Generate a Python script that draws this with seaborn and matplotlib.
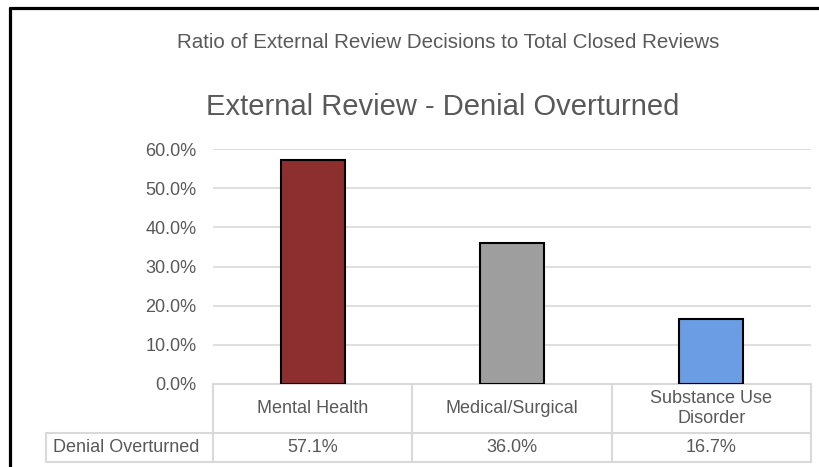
import pandas as pd
import matplotlib.pyplot as plt
import matplotlib.transforms as mtransforms
from matplotlib.lines import Line2D
import seaborn as sns

sns.set_theme(style="white")
plt.rcParams['font.family'] = ['Liberation Sans', 'DejaVu Sans']

# dados
categories = ["Mental Health", "Medical/Surgical", "Substance Use\nDisorder"]
values = [0.571, 0.360, 0.167]
bar_colors = ["#8e2f2f", "#9e9e9e", "#6a9de3"]
row_label = "Denial Overturned"
y_ticks = [0.0, 0.1, 0.2, 0.3, 0.4, 0.5, 0.6]

txt = "#595959"
grid_c = "#d9d9d9"

W, H = 820, 467
fig = plt.figure(figsize=(W / 100, H / 100), dpi=100)
fig.patch.set_facecolor("white")

# área do gráfico (pixels -> fração da figura)
x0, x1, y_top, y_bot = 213, 811, 149, 384
ax = fig.add_axes([x0 / W, (H - y_bot) / H, (x1 - x0) / W, (y_bot - y_top) / H])

df = pd.DataFrame({"cat": categories, "val": values})
sns.barplot(data=df, x="cat", y="val", hue="cat", palette=bar_colors,
            saturation=1, legend=False, width=0.32, edgecolor="black",
            linewidth=1.5, ax=ax, zorder=3)

ax.set_ylim(0, 0.6)
ax.set_xlim(-0.5, len(categories) - 0.5)
ax.set_yticks(y_ticks)
ax.set_yticklabels([f"{t:.1%}" for t in y_ticks], color=txt, fontsize=13)
ax.tick_params(axis="y", length=0, pad=12)
ax.set_xticks([])
ax.set_xlabel("")
ax.set_ylabel("")
for s in ax.spines.values():
    s.set_visible(False)
ax.yaxis.grid(True, color=grid_c, linewidth=1.2, zorder=0)
ax.set_axisbelow(True)

# tabela de dados abaixo do gráfico
tr = mtransforms.blended_transform_factory(ax.transData, ax.transAxes)
ph = y_bot - y_top
r1 = -(433 - y_bot) / ph
r2 = -(462 - y_bot) / ph
left = -0.5 - (x0 - 45) / 200 * (len(categories) / 3)
n = len(categories)
kw = dict(color=grid_c, linewidth=1.5, transform=tr, clip_on=False)
ax.plot([-0.5, n - 0.5], [0, 0], **kw)
ax.plot([left, n - 0.5], [r1, r1], **kw)
ax.plot([left, n - 0.5], [r2, r2], **kw)
ax.plot([left, left], [r1, r2], **kw)
for i in range(n + 1):
    ax.plot([i - 0.5, i - 0.5], [0, r2], **kw)

for i, (c, v) in enumerate(zip(categories, values)):
    ax.text(i, r1 / 2, c, ha="center", va="center", color=txt, fontsize=13,
            transform=tr, linespacing=1.3)
    ax.text(i, (r1 + r2) / 2, f"{v:.1%}", ha="center", va="center",
            color=txt, fontsize=13, transform=tr)
ax.text(left + 0.035, (r1 + r2) / 2, row_label, ha="left", va="center",
        color=txt, fontsize=13, transform=tr)

# títulos
fig.text(448 / W, 1 - 43 / H, "Ratio of External Review Decisions to Total Closed Reviews",
         ha="center", va="center", color=txt, fontsize=14.8)
fig.text(443 / W, 1 - 107 / H, "External Review - Denial Overturned",
         ha="center", va="center", color=txt, fontsize=21)

# moldura preta
fig.add_artist(Line2D([10.5 / W, 10.5 / W], [0, 1 - 8 / H], color="black",
                      linewidth=2.3, transform=fig.transFigure))
fig.add_artist(Line2D([10.5 / W, 1], [1 - 8 / H, 1 - 8 / H], color="black",
                      linewidth=2.3, transform=fig.transFigure))

fig.savefig("out.png", dpi=100)
